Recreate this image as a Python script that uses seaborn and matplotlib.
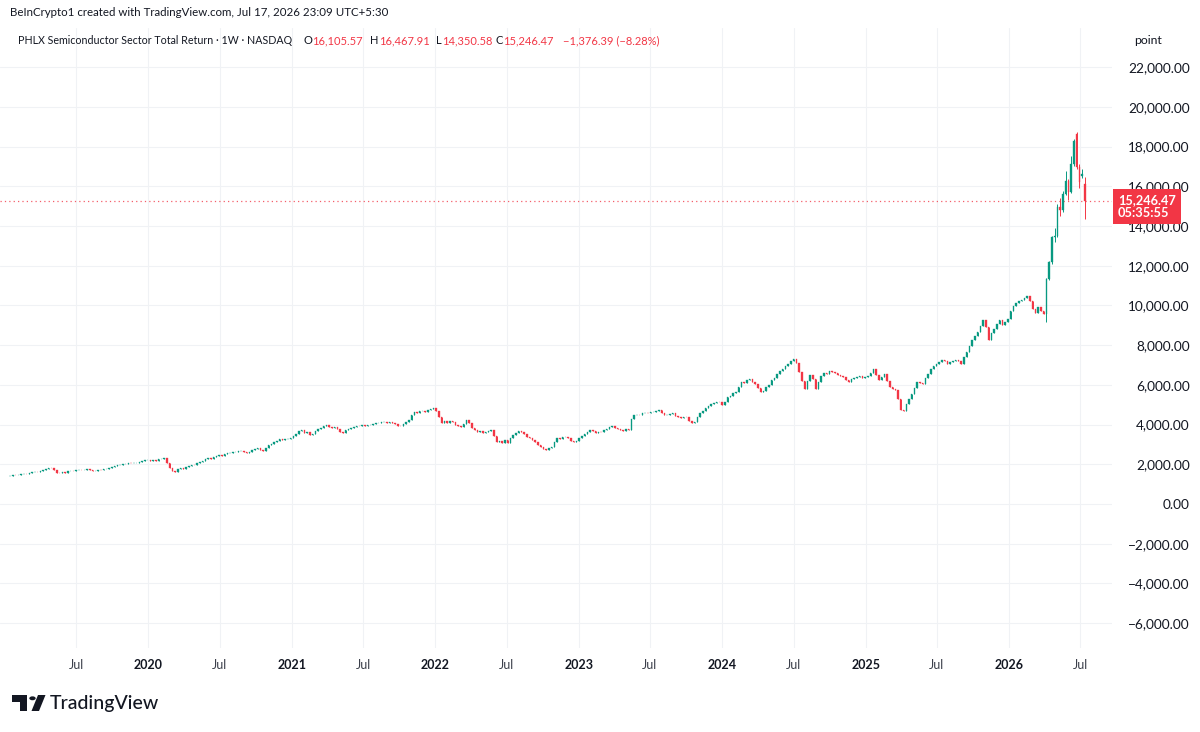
"""
Weekly candlestick chart of the PHLX Semiconductor Sector Total Return index,
redrawn in the style of a TradingView snapshot. Saves out.png.
"""
import numpy as np
import pandas as pd
import matplotlib
matplotlib.use("Agg")
import matplotlib.pyplot as plt
import matplotlib.dates as mdates
import matplotlib.transforms as mtransforms
from matplotlib.patches import Polygon, Circle
import seaborn as sns

# weekly closes, one list per calendar year (first candle is the week of 2019-01-14)
close_2019 = [1420, 1450, 1440, 1480, 1500, 1530, 1520, 1560, 1600, 1620, 1610, 1650, 1700,
              1760, 1820, 1800, 1700, 1560, 1540, 1590, 1580, 1640, 1670, 1650, 1710, 1730,
              1700, 1720, 1740, 1690, 1650, 1670, 1700, 1690, 1740, 1780, 1820, 1850, 1900,
              1940, 1980, 2010, 2020, 2050, 2040, 2060, 2080, 2120, 2180, 2200, 2210]
close_2020 = [2190, 2230, 2180, 2250, 2290, 2300, 2040, 1800, 1650, 1620, 1760, 1790, 1740,
              1850, 1900, 1960, 1940, 2050, 2130, 2180, 2250, 2300, 2290, 2350, 2400, 2460,
              2430, 2500, 2550, 2560, 2600, 2620, 2650, 2680, 2600, 2550, 2620, 2700, 2760,
              2800, 2740, 2680, 2820, 2960, 3020, 3100, 3180, 3250, 3210, 3270, 3290, 3300]
close_2021 = [3420, 3550, 3680, 3720, 3600, 3650, 3480, 3550, 3700, 3760, 3850, 3920, 3970,
              3900, 3830, 3870, 3800, 3650, 3580, 3720, 3800, 3850, 3880, 3940, 3920, 3960,
              3930, 3970, 4000, 4020, 4060, 4080, 4110, 4140, 4100, 4120, 4090, 4010, 3950,
              3920, 4050, 4150, 4220, 4460, 4640, 4600, 4660, 4690, 4620, 4720, 4780, 4810]
close_2022 = [4700, 4390, 4060, 4200, 4100, 4180, 4140, 4000, 3950, 3880, 4050, 4220, 4100,
              3850, 3720, 3650, 3700, 3580, 3620, 3700, 3720, 3400, 3130, 3150, 3050, 3200,
              3080, 3300, 3450, 3600, 3680, 3620, 3500, 3380, 3300, 3200, 3130, 2950, 2850,
              2760, 2710, 2800, 2880, 3100, 3300, 3280, 3350, 3380, 3300, 3180, 3130, 3180]
close_2023 = [3300, 3420, 3500, 3650, 3750, 3700, 3580, 3650, 3630, 3750, 3800, 3880, 3920,
              3850, 3760, 3720, 3700, 3760, 3750, 4300, 4470, 4500, 4480, 4560, 4600, 4580,
              4620, 4640, 4700, 4720, 4600, 4470, 4500, 4530, 4560, 4450, 4380, 4310, 4400,
              4360, 4200, 4060, 4150, 4400, 4560, 4700, 4820, 4950, 5060, 5100, 5140, 5120]
close_2024 = [4970, 5150, 5390, 5450, 5580, 5640, 5900, 6150, 6100, 6230, 6280, 6150, 6050,
              5850, 5640, 5700, 5890, 6000, 6230, 6350, 6570, 6700, 6800, 6950, 7070, 7200,
              7320, 7100, 6650, 6200, 5810, 6200, 6480, 6300, 5810, 6150, 6450, 6600, 6550,
              6700, 6650, 6600, 6500, 6450, 6400, 6250, 6150, 6300, 6350, 6400, 6450, 6350,
              6380]
close_2025 = [6450, 6600, 6820, 6500, 6230, 6400, 6570, 6200, 5890, 5800, 5730, 5300, 4720,
              4700, 5060, 5300, 5560, 5850, 6150, 6100, 6060, 6350, 6570, 6800, 6950, 7070,
              7150, 7240, 7200, 7070, 7150, 7200, 7240, 7180, 7070, 7400, 7650, 7950, 8240,
              8450, 8660, 8950, 9250, 8910, 8240, 8600, 8830, 9050, 9250, 9000, 9150, 9330]
close_2026 = [9700, 9950, 10100, 10200, 10250, 10350, 10450, 10200, 9800, 9600, 9900, 9700,
              9550, 11340, 12180, 13430, 13500, 14940, 14800, 15610, 16280, 15700, 17120,
              18290, 16950, 16200, 16622.86, 15246.47]

first_open = 1400

# full open / high / low of the last 15 weeks, where the wicks are visible
recent_open = [9550, 11340, 12180, 13430, 13500, 14940, 14800, 15610, 16280, 15700, 17120,
               18620, 16950, 16530, 16105.57]
recent_high = [11400, 12250, 13500, 13900, 15100, 15400, 15750, 16780, 16350, 17500, 18400,
               18710, 17100, 16870, 16467.91]
recent_low = [9150, 11300, 12100, 13200, 13450, 14500, 14700, 15550, 15300, 15650, 17000,
              16850, 15900, 16400, 14350.58]

price_ticks = [-6000, -4000, -2000, 0, 2000, 4000, 6000, 8000, 10000, 12000, 14000, 16000,
               18000, 20000, 22000]
time_ticks = ["2019-07-01", "2020-01-01", "2020-07-01", "2021-01-01", "2021-07-01",
              "2022-01-01", "2022-07-01", "2023-01-01", "2023-07-01", "2024-01-01",
              "2024-07-01", "2025-01-01", "2025-07-01", "2026-01-01", "2026-07-01"]

last_price = 15246.47
countdown = "05:35:55"
snapshot_note = "BeInCrypto1 created with TradingView.com, Jul 17, 2026 23:09 UTC+5:30"
symbol_name = "PHLX Semiconductor Sector Total Return \u00b7 1W \u00b7 NASDAQ"
ohlc_labels = ["O", "H", "L", "C"]
ohlc_values = ["16,105.57", "16,467.91", "14,350.58", "15,246.47"]
change_text = "\u22121,376.39 (\u22128.28%)"

UP = "#089981"
DOWN = "#F23645"
TEXT = "#131722"
GRID = "#f0f2f5"
W, H = 1200, 732


def fxy(x, y):
    """pixel position (from top-left) -> figure fraction"""
    return x / W, 1 - y / H


def build_candles():
    closes = np.array(close_2019 + close_2020 + close_2021 + close_2022 + close_2023
                      + close_2024 + close_2025 + close_2026, dtype=float)
    opens = np.concatenate([[first_open], closes[:-1]])
    n = len(recent_open)
    opens[-n:] = recent_open
    highs = np.maximum(opens, closes)
    lows = np.minimum(opens, closes)
    highs[-n:] = recent_high
    lows[-n:] = recent_low
    dates = pd.date_range("2019-01-14", periods=len(closes), freq="7D")
    return pd.DataFrame({"date": dates, "open": opens, "high": highs,
                         "low": lows, "close": closes})


def main():
    sns.set_theme(style="white")
    plt.rcParams["font.family"] = ["Lato", "DejaVu Sans"]

    df = build_candles()

    fig = plt.figure(figsize=(12, 7.32), dpi=100)
    x0, y_bot = fxy(0, 648)
    ax = fig.add_axes([x0, y_bot, 1112 / W, (648 - 28) / H])

    x = mdates.date2num(df["date"])
    up = df["close"] >= df["open"]
    colors = np.where(up, UP, DOWN)

    # wicks then bodies
    ax.vlines(x, df["low"], df["high"], colors=colors, lw=0.7, zorder=2)
    body_lo = np.minimum(df["open"], df["close"])
    body_h = np.abs(df["close"] - df["open"])
    ax.bar(x, body_h, bottom=body_lo, width=3.8, color=colors, edgecolor=colors,
           linewidth=0.25, zorder=3)

    # last price line
    ax.axhline(last_price, color=DOWN, lw=0.9, ls=(0, (1, 2.5)), alpha=0.8, zorder=1)

    ax.set_xlim(mdates.datestr2num("2018-12-19"), mdates.datestr2num("2026-09-20"))
    ax.set_ylim(-7252, 23971)

    # price scale on the right
    ax.yaxis.tick_right()
    ax.set_yticks(price_ticks)
    ax.set_yticklabels([f"{v:,.2f}".replace("-", "\u2212") for v in price_ticks],
                       fontsize=9.8, color=TEXT)
    for lab in ax.get_yticklabels():
        lab.set_horizontalalignment("right")
    ax.tick_params(axis="y", length=0, pad=56)

    # time scale
    tpos = mdates.datestr2num(time_ticks)
    ax.set_xticks(tpos)
    ax.set_xticklabels(["Jul" if t.endswith("07-01") else t[:4] for t in time_ticks],
                       fontsize=9, color=TEXT)
    for lab in ax.get_xticklabels():
        if lab.get_text() != "Jul":
            lab.set_fontweight("bold")
        else:
            lab.set_color("#3b3f4a")
    ax.tick_params(axis="x", length=0, pad=8)

    ax.grid(True, color=GRID, lw=0.8)
    ax.set_axisbelow(True)
    sns.despine(ax=ax, left=True, bottom=True, right=True, top=True)

    # last price tag
    tag_tr = mtransforms.blended_transform_factory(ax.transAxes, ax.transData)
    ax.text(1118 / 1112, 14982, f"{last_price:,.2f}\n{countdown}", transform=tag_tr,
            ha="left", va="center", fontsize=9.2, fontweight="bold", color="white",
            linespacing=1.05, clip_on=False,
            bbox=dict(boxstyle="square,pad=0.38", fc=DOWN, ec="none"))

    # header lines
    fig.text(*fxy(10, 13), snapshot_note, fontsize=8.3, color=TEXT, va="center")
    fig.text(*fxy(18, 44), symbol_name, fontsize=7.7, color=TEXT, va="baseline")
    fig.text(*fxy(1134, 44), "point", fontsize=8.8, color=TEXT, va="baseline")

    fig.canvas.draw()
    renderer = fig.canvas.get_renderer()
    for px, lab, val in zip([303, 370, 436, 495], ohlc_labels, ohlc_values):
        t = fig.text(*fxy(px, 44), lab, fontsize=8, color=TEXT, va="baseline")
        bb = t.get_window_extent(renderer)
        fig.text(bb.x1 / W + 0.5 / W, 1 - 44 / H, val, fontsize=8, color=DOWN,
                 va="baseline")
    fig.text(*fxy(563, 44), change_text, fontsize=8, color=DOWN, va="baseline")

    # TradingView logo
    logo = [
        Polygon([fxy(11.5, 695), fxy(27.5, 695), fxy(27.5, 711), fxy(19.5, 711),
                 fxy(19.5, 701.5), fxy(11.5, 701.5)], closed=True),
        Circle(fxy(32.5, 698.3), 3.2 / W),
        Polygon([fxy(38, 695), fxy(45.5, 695), fxy(39, 711), fxy(31.5, 711)], closed=True),
    ]
    for p in logo:
        p.set_transform(fig.transFigure)
        p.set_facecolor(TEXT)
        p.set_edgecolor("none")
        fig.patches.append(p)
    fig.text(*fxy(50, 704), "TradingView", fontsize=14, color=TEXT, va="center",
             fontweight="medium")

    fig.savefig("out.png", dpi=100, facecolor="white")


if __name__ == "__main__":
    main()
